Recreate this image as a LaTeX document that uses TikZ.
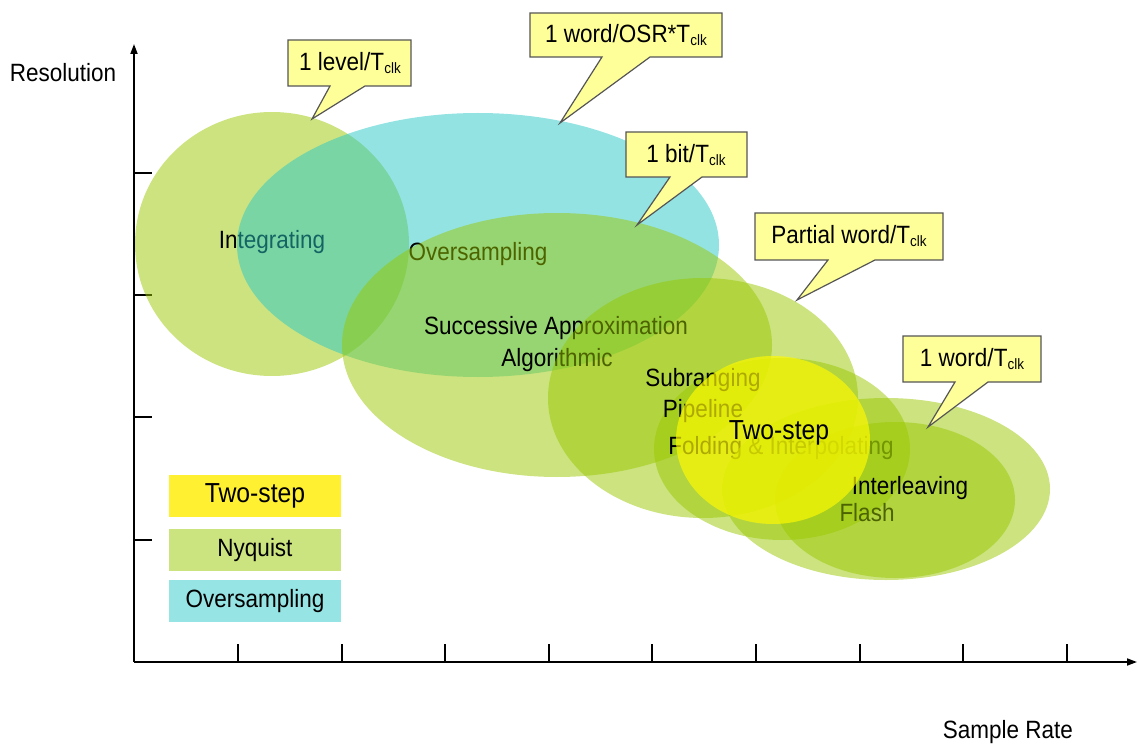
\documentclass[tikz,border=0pt]{standalone}
\usepackage{fontspec}
\setmainfont{Liberation Sans}[FakeStretch=0.9]
\usetikzlibrary{arrows.meta}
\definecolor{nyq}{RGB}{153,199,0}
\definecolor{ovs}{RGB}{40,200,200}
\definecolor{twostepc}{RGB}{255,250,0}
\definecolor{callfill}{RGB}{255,255,153}
\definecolor{callline}{RGB}{85,85,85}
\definecolor{legY}{RGB}{255,240,50}
\definecolor{legN}{RGB}{204,228,128}
\definecolor{legO}{RGB}{150,228,228}
\newcommand{\clksub}{\raisebox{-3pt}{\fontsize{15}{15}\selectfont clk}}
\begin{document}
\begin{tikzpicture}[x=1pt,y=-1pt,
  nyqfill/.style={fill=nyq,fill opacity=0.5},
  ovsfill/.style={fill=ovs,fill opacity=0.5},
  tsfill/.style={fill=twostepc,fill opacity=0.68},
  lbl/.style={font=\fontsize{25}{28}\selectfont, inner sep=0pt, text=black},
  biglbl/.style={font=\fontsize{27.5}{30}\selectfont, inner sep=0pt, text=black},
  callout/.style={fill=callfill, draw=callline, line width=1.2pt, line join=miter},
  legbox/.style={lbl, minimum width=172pt, minimum height=42pt, anchor=center},
  axisline/.style={line width=1.8pt, -{Triangle[length=10pt,width=7pt]}},
  tickline/.style={line width=1.8pt},
]
\useasboundingbox (0,0) rectangle (1138,746);

% axes
\coordinate (O) at (134,662);
\coordinate (Ytop) at (134,44);
\coordinate (Xend) at (1137,662);
\draw[axisline] (O) -- (Ytop);
\draw[axisline] (O) -- (Xend);
\foreach \yy in {173,295,417,540} \draw[tickline] (134,\yy) -- (152,\yy);
\foreach \xx in {238,342,445,549,652,756,860,963,1067} \draw[tickline] (\xx,662) -- (\xx,644);
\node[lbl] (ylab) at (63,73) {Resolution};
\node[lbl] (xlab) at (1008,732) {Sample Rate};

% Integrating
\fill[nyqfill] (272,244) ellipse [x radius=137, y radius=132];
\node[lbl] (integ) at (272,242) {Integrating};
% Oversampling
\fill[ovsfill] (478,245) ellipse [x radius=241, y radius=132];
\node[lbl] (overs) at (478,254) {Oversampling};
% Successive approximation
\fill[nyqfill] (557,345) ellipse [x radius=215, y radius=132];
\node[lbl] (sa) at (556,328) {Successive Approximation};
\node[lbl] (algo) at (557,360) {Algorithmic};
% Subranging
\fill[nyqfill] (703,398) ellipse [x radius=155, y radius=120];
\fill[nyqfill] (782,449) ellipse [x radius=128, y radius=91];
\node[lbl] (subr) at (703,380) {Subranging};
\node[lbl] (pipe) at (703,411) {Pipeline};
\node[lbl] (fold) at (781,448) {Folding \& Interpolating};
% Flash
\fill[nyqfill] (886,489) ellipse [x radius=164, y radius=91];
\node[lbl] (flash) at (867,513) {Flash};
\fill[nyqfill] (895,500) ellipse [x radius=120, y radius=78];
\node[lbl] (interl) at (910,488) {Interleaving};
% Two-step
\fill[tsfill] (773,440) ellipse [x radius=97, y radius=84];
\node[biglbl] (twostep) at (779,433) {Two-step};

% callouts
\draw[callout] (288,40) -- (411,40) -- (411,86) -- (365,86) -- (312,119) -- (330,86) -- (288,86) -- cycle;
\node[lbl] (c1) at (350,63) {1 level/T\clksub};
\draw[callout] (530,13) -- (722,13) -- (722,57) -- (650,57) -- (560,123) -- (602,57) -- (530,57) -- cycle;
\node[lbl] (c2) at (626,35) {1 word/OSR*T\clksub};
\draw[callout] (626,132) -- (747,132) -- (747,177) -- (702,177) -- (637,225) -- (670,177) -- (626,177) -- cycle;
\node[lbl] (c3) at (686,155) {1 bit/T\clksub};
\draw[callout] (755,213) -- (943,213) -- (943,260) -- (875,260) -- (797,300) -- (828,260) -- (755,260) -- cycle;
\node[lbl] (c4) at (849,236) {Partial word/T\clksub};
\draw[callout] (903,336) -- (1041,336) -- (1041,382) -- (988,382) -- (928,427) -- (955,382) -- (903,382) -- cycle;
\node[lbl] (c5) at (972,359) {1 word/T\clksub};

% legend
\node[legbox, fill=legY, font=\fontsize{27.5}{30}\selectfont] (legTwo) at (255,496) {Two-step};
\node[legbox, fill=legN] (legNyq) at (255,550) {Nyquist};
\node[legbox, fill=legO] (legOvs) at (255,601) {Oversampling};
\end{tikzpicture}
\end{document}
